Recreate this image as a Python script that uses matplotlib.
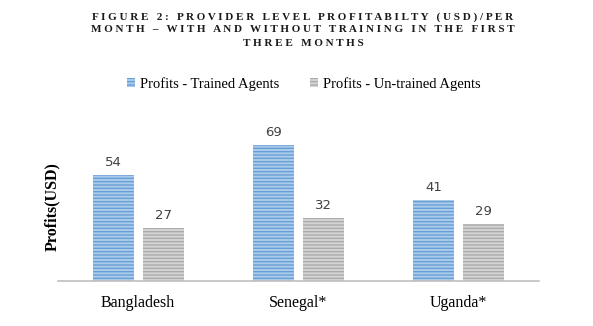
import numpy as np
import matplotlib.pyplot as plt

countries = ['Bangladesh', 'Senegal*', 'Uganda*']
trained = [54, 69, 41]
untrained = [27, 32, 29]
series_names = ['Profits - Trained Agents', 'Profits - Un-trained Agents']

title_lines = ['FIGURE 2: PROVIDER LEVEL PROFITABILTY (USD)/PER',
               'MONTH – WITH AND WITHOUT TRAINING IN THE FIRST',
               'THREE MONTHS']


def spaced(s):
    # letter-spaced caps, wider gap between words
    return '   '.join(' '.join(w) for w in s.split(' '))


plt.rcParams['hatch.linewidth'] = 1.0

fig = plt.figure(figsize=(5.93, 3.26), dpi=100)
ax = fig.add_axes([0.0978, 0.138, 0.811, 0.494])

x = np.arange(len(countries))
w = 0.256
off = 0.156
b1 = ax.bar(x - off, trained, w, color='#a9cbeb', edgecolor='#6a9fd6',
            hatch='-----', linewidth=0)
b2 = ax.bar(x + off, untrained, w, color='#d4d4d4', edgecolor='#ababab',
            hatch='-----', linewidth=0)

for bars, vals in ((b1, trained), (b2, untrained)):
    for r, v in zip(bars, vals):
        ax.text(r.get_x() + r.get_width() / 2, v + 3.2, str(v), ha='center',
                va='bottom', fontsize=9.5, color='#404040', family='DejaVu Sans')

ax.set_xlim(-0.5, 2.5)
ax.set_ylim(0, 82)
for s in ['top', 'right', 'left']:
    ax.spines[s].set_visible(False)
ax.spines['bottom'].set_color('#bfbfbf')
ax.spines['bottom'].set_linewidth(1.2)
ax.set_yticks([])
ax.set_xticks(x)
ax.set_xticklabels(countries, family='Liberation Serif', fontsize=11.5)
ax.tick_params(axis='x', length=0, pad=10)
ax.set_ylabel('Profits(USD)', family='Liberation Serif', fontsize=11.5,
              fontweight='bold')
ax.yaxis.set_label_coords(0.005, 0.46)

leg = fig.legend([b1, b2], series_names, loc='center', bbox_to_anchor=(0.512, 0.742),
                 ncol=2, frameon=False, prop={'family': 'Liberation Serif', 'size': 10.5},
                 handlelength=0.6, handleheight=0.6, handletextpad=0.3, columnspacing=2.1)

for i, line in enumerate(title_lines):
    fig.text(0.511, 1 - (17 + 13 * i) / 326, spaced(line), ha='center', va='center',
             family='Liberation Serif', fontsize=8, fontweight='bold', color='#1a1a1a')

fig.savefig('out.png', dpi=100)
